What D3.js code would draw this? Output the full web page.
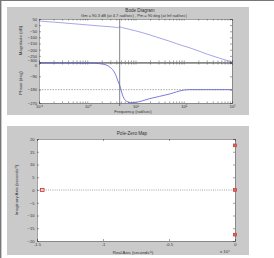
<!DOCTYPE html>
<html>
<head>
<meta charset="utf-8">
<script src="https://cdn.jsdelivr.net/npm/d3@7"></script>
<style>
  body { margin: 0; background: #fff; }
  svg { display: block; font-family: "Liberation Sans", Arial, sans-serif; }
  .ax text { font-size: 4.1px; fill: #333; }
  .ax path, .ax line { stroke: #444; stroke-width: 0.5; }
</style>
</head>
<body>
<svg id="chart" width="274" height="258"></svg>
<script>
// bode data (rad/sec, dB, deg)
var bodeFreq  = [0.1, 0.3, 1, 2, 3, 4, 4.3, 4.7, 5.5, 6.5, 8, 10, 20, 50, 100, 130, 300, 1000];
var magDb     = [34, 19, 2, -8, -13, -18, -20, -14, -22, -28, -37, -46, -80, -130, -170, -183, -235, -300];
var phaseDeg  = [0, 0, 0, -6, -30, -90, -120, -150, -225, -258, -268, -266, -240, -210, -183, -180, -180, -180];
var magTicks   = [50, 0, -50, -100, -150, -200, -250, -300];
var phaseTicks = [0, -90, -180, -270];
var freqTicks  = [0.1, 1, 10, 100, 1000];
var freqLabels = ["10\u207B\u00B9", "10\u2070", "10\u00B9", "10\u00B2", "10\u00B3"];
var crossFreq = 4.7;

// pole-zero data
var zeroRe = [-1.46e4], zeroIm = [0];
var poleRe = [0, 0, 0], poleIm = [17.5, 0, -17.5];
var reTicks = [-1.5e4, -1e4, -0.5e4, 0];
var reLabels = ["-1.5", "-1", "-0.5", "0"];
var imTicks = [20, 15, 10, 5, 0, -5, -10, -15, -20];

var svg = d3.select("#chart");

// page frame
svg.append("line").attr("x1", 0).attr("x2", 274).attr("y1", 0.5).attr("y2", 0.5).attr("stroke", "#777");
svg.append("line").attr("x1", 0.7).attr("x2", 0.7).attr("y1", 0).attr("y2", 258).attr("stroke", "#777").attr("stroke-width", 1.4);

// figure backgrounds
svg.append("rect").attr("x", 7).attr("y", 7).attr("width", 242).attr("height", 108).attr("fill", "#cacaca");
svg.append("rect").attr("x", 7).attr("y", 126).attr("width", 242).attr("height", 129).attr("fill", "#cacaca");

var x = d3.scaleLog().domain([0.1, 1000]).range([39, 232]);
var yMag = d3.scaleLinear().domain([-300, 50]).range([62, 19]);
var yPh = d3.scaleLinear().domain([-270, 0]).range([103, 63]);

function minorTicks() {
  var t = [];
  for (var d = 0.1; d < 1000; d *= 10) {
    for (var k = 1; k < 10; k++) t.push(d * k);
  }
  t.push(1000);
  return t;
}

function panel(y, top, bottom, ticks, showX) {
  var g = svg.append("g");
  g.append("rect").attr("x", 39).attr("y", top).attr("width", 193).attr("height", bottom - top)
    .attr("fill", "#fff");
  var yl = g.append("g").attr("class", "ax").attr("transform", "translate(39,0)")
    .call(d3.axisLeft(y).tickValues(ticks).tickSize(-2).tickPadding(2));
  g.append("g").attr("class", "ax").attr("transform", "translate(232,0)")
    .call(d3.axisRight(y).tickValues(ticks).tickSize(-2).tickFormat(""));
  g.append("g").attr("class", "ax").attr("transform", "translate(0," + top + ")")
    .call(d3.axisTop(x).tickValues(minorTicks()).tickSize(-1.5).tickFormat(""));
  g.append("g").attr("class", "ax").attr("transform", "translate(0," + bottom + ")")
    .call(d3.axisBottom(x).tickValues(minorTicks()).tickSize(-1.5).tickPadding(2.5)
      .tickFormat(function (d) {
        var i = freqTicks.findIndex(function (f) { return Math.abs(f - d) / d < 1e-6; });
        return (showX && i >= 0) ? freqLabels[i] : "";
      }));
  g.selectAll(".ax .domain").attr("stroke", "#555");
  return yl;
}

var magAxis = panel(yMag, 19, 62, magTicks, false);
var phAxis = panel(yPh, 63, 103, phaseTicks, true);
// keep the shared edge labels apart
magAxis.selectAll(".tick text").filter(function (d) { return d === -300; }).attr("dy", "-0.05em");
phAxis.selectAll(".tick text").filter(function (d) { return d === 0; }).attr("dy", "0.95em");

// -180 reference line
svg.append("line").attr("x1", 39).attr("x2", 232).attr("y1", yPh(-180)).attr("y2", yPh(-180))
  .attr("stroke", "#555").attr("stroke-width", 0.5).attr("stroke-dasharray", "1.5,1.2");

// crossover marker
svg.append("line").attr("x1", x(crossFreq)).attr("x2", x(crossFreq)).attr("y1", 19).attr("y2", 106)
  .attr("stroke", "#333").attr("stroke-width", 0.6);

var bodePts = bodeFreq.map(function (f, i) { return [f, magDb[i], phaseDeg[i]]; });
svg.append("path").datum(bodePts)
  .attr("d", d3.line().x(function (d) { return x(d[0]); }).y(function (d) { return yMag(d[1]); }).curve(d3.curveMonotoneX))
  .attr("fill", "none").attr("stroke", "#6a6ad8").attr("stroke-width", 0.6);
svg.append("path").datum(bodePts)
  .attr("d", d3.line().x(function (d) { return x(d[0]); }).y(function (d) { return yPh(d[2]); }).curve(d3.curveMonotoneX))
  .attr("fill", "none").attr("stroke", "#5a5ad0").attr("stroke-width", 0.8);

// bode texts
svg.append("text").attr("x", 140).attr("y", 11.5).attr("text-anchor", "middle")
  .attr("font-size", 4.6).attr("fill", "#333").text("Bode Diagram");
svg.append("text").attr("x", 134).attr("y", 16.5).attr("text-anchor", "middle")
  .attr("font-size", 4).attr("fill", "#333")
  .text("Gm = 90.3 dB (at 4.7 rad/sec) ,  Pm = 90 deg (at Inf rad/sec)");
svg.append("text").attr("transform", "translate(22,40.5) rotate(-90)").attr("text-anchor", "middle")
  .attr("font-size", 4.3).attr("fill", "#333").text("Magnitude (dB)");
svg.append("text").attr("transform", "translate(22,83) rotate(-90)").attr("text-anchor", "middle")
  .attr("font-size", 4.3).attr("fill", "#333").text("Phase (deg)");
svg.append("text").attr("x", 133).attr("y", 113.3).attr("text-anchor", "middle")
  .attr("font-size", 4.2).attr("fill", "#333").text("Frequency (rad/sec)");

// pole-zero map
var xr = d3.scaleLinear().domain([-1.5e4, 0]).range([37, 235]);
var yi = d3.scaleLinear().domain([-20, 20]).range([241, 139]);

svg.append("rect").attr("x", 37).attr("y", 139).attr("width", 198).attr("height", 102).attr("fill", "#fff");
svg.append("g").attr("class", "ax").attr("transform", "translate(37,0)")
  .call(d3.axisLeft(yi).tickValues(imTicks).tickSize(-2).tickPadding(2.5));
svg.append("g").attr("class", "ax").attr("transform", "translate(235,0)")
  .call(d3.axisRight(yi).tickValues(imTicks).tickSize(-2).tickFormat(""));
svg.append("g").attr("class", "ax").attr("transform", "translate(0,139)")
  .call(d3.axisTop(xr).tickValues(reTicks).tickSize(-2).tickFormat(""));
svg.append("g").attr("class", "ax").attr("transform", "translate(0,241)")
  .call(d3.axisBottom(xr).tickValues(reTicks).tickSize(-2).tickPadding(2.5)
    .tickFormat(function (d, i) { return reLabels[i]; }));

svg.append("line").attr("x1", 37).attr("x2", 235).attr("y1", yi(0)).attr("y2", yi(0))
  .attr("stroke", "#444").attr("stroke-width", 0.5).attr("stroke-dasharray", "1,1.2");

svg.selectAll(".zero").data(zeroRe).enter().append("rect").attr("class", "zero")
  .attr("x", function (d) { return xr(d) - 1.8; })
  .attr("y", function (d, i) { return yi(zeroIm[i]) - 1.5; })
  .attr("width", 3.6).attr("height", 3)
  .attr("fill", "#f3d0d0").attr("stroke", "#d03030").attr("stroke-width", 0.8);

svg.selectAll(".pole").data(poleRe).enter().append("rect").attr("class", "pole")
  .attr("x", function (d) { return xr(d) - 1.6; })
  .attr("y", function (d, i) { return yi(poleIm[i]) - 1.4; })
  .attr("width", 3.2).attr("height", 2.8)
  .attr("fill", "#e06060").attr("stroke", "#c83030").attr("stroke-width", 0.6);

svg.append("text").attr("x", 132).attr("y", 135).attr("text-anchor", "middle")
  .attr("font-size", 4.6).attr("fill", "#333").text("Pole-Zero Map");
svg.append("text").attr("transform", "translate(18,190) rotate(-90)").attr("text-anchor", "middle")
  .attr("font-size", 4.3).attr("fill", "#333").text("Imaginary Axis (seconds\u207B\u00B9)");
svg.append("text").attr("x", 133).attr("y", 253.5).attr("text-anchor", "middle")
  .attr("font-size", 4.3).attr("fill", "#333").text("Real Axis (seconds\u207B\u00B9)");
svg.append("text").attr("x", 220).attr("y", 253).attr("font-size", 4.3).attr("fill", "#333")
  .text("x 10\u2074");
</script>
</body>
</html>
